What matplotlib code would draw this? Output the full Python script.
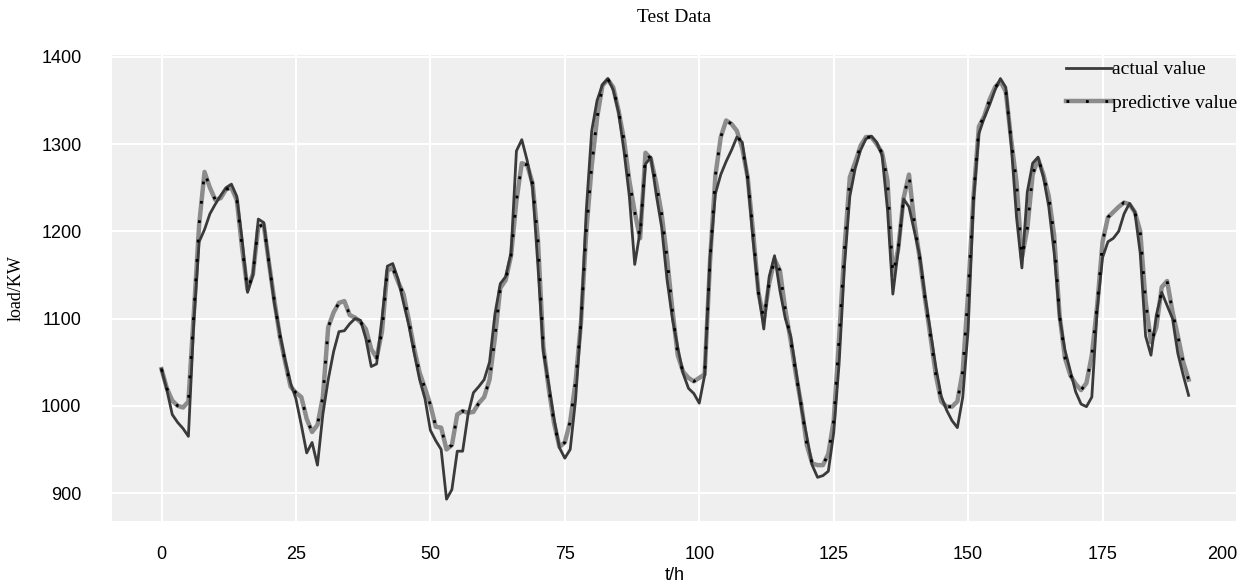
#!/usr/bin/env python3
"""Test data: actual vs predictive load, hourly."""
import numpy as np
import matplotlib
matplotlib.use('Agg')
import matplotlib.pyplot as plt
from matplotlib.legend_handler import HandlerTuple

# hourly load, 8 days (t = 0..191)
actual_load = [
    1042, 1018, 990, 981, 974, 965, 1095, 1188, 1202, 1220,
    1231, 1241, 1250, 1254, 1240, 1190, 1130, 1150, 1214, 1210,
    1163, 1117, 1083, 1052, 1026, 1008, 978, 946, 958, 932,
    990, 1030, 1062, 1085, 1086, 1094, 1100, 1098, 1077, 1045,
    1048, 1100, 1160, 1163, 1145, 1118, 1092, 1060, 1030, 1008,
    972, 960, 950, 893, 904, 948, 948, 990, 1015, 1022,
    1030, 1050, 1105, 1140, 1148, 1175, 1292, 1305, 1281, 1250,
    1160, 1062, 1025, 985, 952, 940, 950, 1007, 1095, 1225,
    1315, 1350, 1368, 1375, 1362, 1336, 1292, 1240, 1162, 1200,
    1277, 1285, 1242, 1205, 1145, 1100, 1067, 1037, 1020, 1014,
    1003, 1035, 1170, 1243, 1265, 1280, 1293, 1308, 1302, 1260,
    1190, 1130, 1088, 1148, 1172, 1132, 1100, 1080, 1040, 997,
    965, 932, 918, 920, 925, 969, 1048, 1160, 1240, 1272,
    1293, 1306, 1309, 1302, 1287, 1225, 1128, 1178, 1237, 1228,
    1200, 1172, 1125, 1085, 1044, 1011, 995, 983, 975, 1010,
    1087, 1235, 1312, 1330, 1345, 1362, 1375, 1365, 1300, 1216,
    1158, 1245, 1278, 1285, 1262, 1228, 1175, 1102, 1064, 1040,
    1016, 1002, 999, 1010, 1110, 1170, 1188, 1192, 1200, 1220,
    1232, 1222, 1175, 1080, 1058, 1104, 1130, 1115, 1100, 1060,
    1035, 1012,
]

predictive_load = [
    1042, 1020, 1006, 1000, 998, 1005, 1105, 1208, 1268, 1250,
    1236, 1238, 1248, 1250, 1236, 1180, 1133, 1151, 1205, 1208,
    1163, 1120, 1080, 1050, 1022, 1015, 1010, 985, 970, 978,
    1010, 1090, 1107, 1118, 1120, 1104, 1101, 1096, 1088, 1065,
    1055, 1085, 1155, 1158, 1142, 1128, 1098, 1065, 1038, 1020,
    1001, 976, 975, 950, 955, 990, 994, 992, 993, 1003,
    1010, 1030, 1078, 1135, 1144, 1172, 1235, 1278, 1276, 1255,
    1190, 1068, 1020, 980, 953, 958, 982, 1028, 1095, 1200,
    1275, 1330, 1367, 1374, 1365, 1338, 1305, 1258, 1222, 1192,
    1290, 1283, 1255, 1220, 1170, 1110, 1058, 1039, 1032, 1028,
    1032, 1036, 1165, 1264, 1308, 1327, 1323, 1315, 1295, 1262,
    1200, 1130, 1100, 1140, 1168, 1155, 1110, 1075, 1035, 1000,
    955, 934, 932, 932, 945, 983, 1077, 1180, 1262, 1279,
    1298, 1308, 1308, 1300, 1290, 1258, 1150, 1180, 1238, 1265,
    1210, 1169, 1122, 1079, 1035, 1005, 999, 999, 1005, 1040,
    1129, 1240, 1320, 1332, 1351, 1365, 1372, 1360, 1305, 1256,
    1170, 1203, 1265, 1283, 1265, 1240, 1195, 1104, 1055, 1035,
    1025, 1018, 1026, 1058, 1115, 1188, 1216, 1222, 1228, 1233,
    1231, 1222, 1200, 1120, 1073, 1090, 1136, 1143, 1108, 1080,
    1050, 1030,
]

hours = np.arange(len(actual_load))
x_ticks = [0, 25, 50, 75, 100, 125, 150, 175, 200]
y_ticks = [900, 1000, 1100, 1200, 1300, 1400]

serif = ['Liberation Serif', 'DejaVu Serif']
sans = ['Liberation Sans', 'DejaVu Sans']

fig, ax = plt.subplots(figsize=(12.49, 5.84), dpi=100)
fig.subplots_adjust(left=0.0897, right=0.9904, top=0.9058, bottom=0.1079)

# ggplot-ish panel: light grey, white grid, no frame
ax.set_facecolor('#efefef')
for side in ax.spines.values():
    side.set_visible(False)
ax.grid(True, color='white', linewidth=1.5)
ax.set_axisbelow(True)

l_pred, = ax.plot(hours, predictive_load, color='#8c8c8c', linewidth=3.2,
                  zorder=2)
l_act, = ax.plot(hours, actual_load, color='#3a3a3a', linewidth=2.0,
                 zorder=3)
l_dots, = ax.plot(hours, predictive_load, color='black', linewidth=2.0,
                  linestyle=(0, (1, 6)), dash_capstyle='butt', zorder=4)

ax.set_xlim(-9.2, 199.8)
ax.set_ylim(868, 1402)
ax.set_xticks(x_ticks)
ax.set_yticks(y_ticks)
ax.tick_params(axis='both', length=0)
ax.tick_params(axis='x', pad=18)
ax.tick_params(axis='y', pad=22)
for lab in ax.get_xticklabels():
    lab.set_family(sans)
    lab.set_fontsize(13)
# last label sits against the right edge in the original
ax.get_xticklabels()[-1].set_horizontalalignment('right')
for lab in ax.get_yticklabels():
    lab.set_family(sans)
    lab.set_fontsize(13)

ax.set_title('Test Data', family=serif, fontsize=14, pad=24)
ax.set_xlabel('t/h', family=sans, fontsize=13, labelpad=3)
ax.set_ylabel('load/KW', family=serif, fontsize=13, labelpad=12)

leg = ax.legend([l_act, (l_pred, l_dots)], ['actual value', 'predictive value'],
                handler_map={tuple: HandlerTuple(ndivide=1)},
                loc='upper right', bbox_to_anchor=(1.016, 1.025),
                frameon=False, prop={'family': serif, 'size': 14},
                handlelength=2.4, handletextpad=0.0, labelspacing=0.8)

fig.savefig('out.png', dpi=100, facecolor='white')
